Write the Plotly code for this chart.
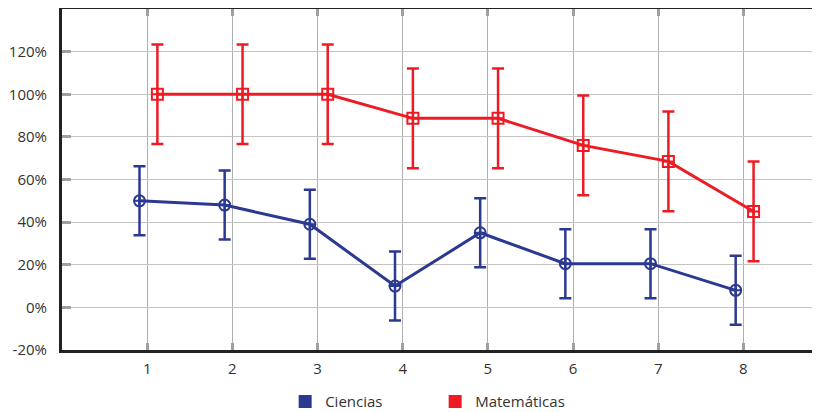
import plotly.graph_objects as go

categories = [1, 2, 3, 4, 5, 6, 7, 8]
ciencias = [50, 48, 39, 10, 35, 20.5, 20.5, 8]
ciencias_err = [16.2, 16.2, 16.2, 16.2, 16.2, 16.2, 16.2, 16.2]
matematicas = [100, 100, 100, 88.7, 88.7, 76, 68.5, 45]
matematicas_err = [23.4, 23.4, 23.4, 23.4, 23.4, 23.4, 23.4, 23.4]
y_ticks = [-20, 0, 20, 40, 60, 80, 100, 120]
y_labels = [f"{v}%" for v in y_ticks]

BLUE = "#2B3990"
RED = "#ED1C24"

fig = go.Figure()

fig.add_trace(go.Scatter(
    x=[c - 0.09 for c in categories], y=ciencias,
    mode="lines+markers", name="Ciencias", showlegend=False,
    line=dict(color=BLUE, width=3),
    marker=dict(symbol="circle-cross-open", size=11, color=BLUE, line=dict(width=2)),
    error_y=dict(type="data", array=ciencias_err, visible=True, color=BLUE, thickness=2.5, width=6),
))
fig.add_trace(go.Scatter(
    x=[c + 0.12 for c in categories], y=matematicas,
    mode="lines+markers", name="Matemáticas", showlegend=False,
    line=dict(color=RED, width=3),
    marker=dict(symbol="square-cross-open", size=11, color=RED, line=dict(width=2)),
    error_y=dict(type="data", array=matematicas_err, visible=True, color=RED, thickness=2.5, width=6),
))
# legend entries
for name, col in [("Ciencias", BLUE), ("Matemáticas", RED)]:
    fig.add_trace(go.Scatter(
        x=[None], y=[None], mode="markers", name=name,
        marker=dict(symbol="square", size=13, color=col),
    ))

fig.update_layout(
    width=820, height=412,
    margin=dict(l=54, r=8, t=1, b=70, autoexpand=False),
    paper_bgcolor="white", plot_bgcolor="white",
    font=dict(family="Open Sans", size=15, color="#333333"),
    showlegend=True,
    legend=dict(orientation="h", xref="container", yref="container",
                x=0.338, xanchor="left", y=0.044, yanchor="middle",
                font=dict(size=15, color="#333333"), entrywidth=105, entrywidthmode="pixels",
                itemclick=False, bgcolor="rgba(0,0,0,0)"),
    xaxis=dict(
        range=[0, 8.9], tickvals=categories, ticktext=[str(c) for c in categories],
        showgrid=True, gridcolor="#b0b0b0", gridwidth=1,
        showline=True, linecolor="#222222", linewidth=3, mirror="allticks",
        ticks="inside", ticklen=7, tickwidth=3, tickcolor="#a0a0a0",
        ticklabelstandoff=3, zeroline=False, fixedrange=True, automargin=False,
    ),
    yaxis=dict(
        range=[-20, 140], tickvals=y_ticks, ticktext=y_labels,
        showgrid=True, gridcolor="#c4c4c4", gridwidth=1.3,
        showline=True, linecolor="#222222", linewidth=3, mirror=False,
        ticks="inside", ticklen=9, tickwidth=3, tickcolor="#a0a0a0",
        ticklabelstandoff=9, zeroline=False, fixedrange=True, automargin=False,
    ),
)

fig.write_html("out.html")
